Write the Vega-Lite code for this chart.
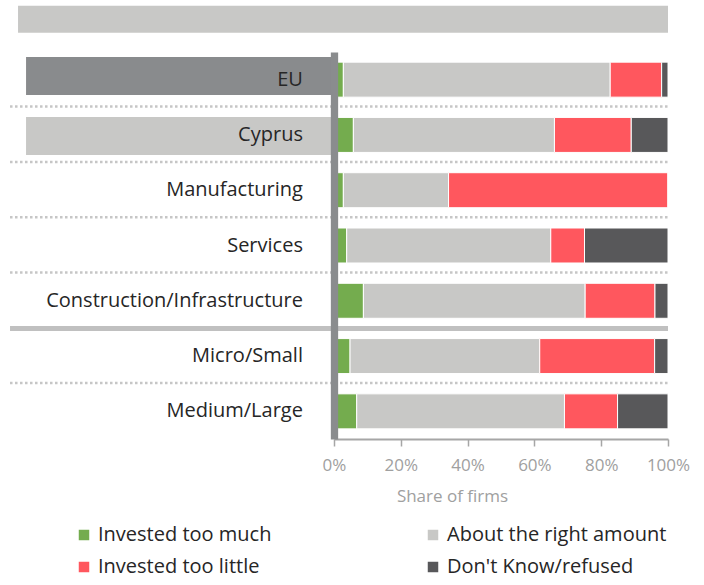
{
  "$schema": "https://vega.github.io/schema/vega-lite/v6.json",
  "autosize": {"type": "none"},
  "padding": {"left": 334, "top": 52, "right": 36, "bottom": 146},
  "width": 334,
  "height": 387,
  "background": "white",
  "config": {"font": "Open Sans", "view": {"stroke": null}},
  "datasets": {
    "shares": [
      {"group": "EU", "response": "Invested too much", "share": 2.8},
      {"group": "EU", "response": "About the right amount", "share": 79.9},
      {"group": "EU", "response": "Invested too little", "share": 15.4},
      {"group": "EU", "response": "Don't Know/refused", "share": 1.9},
      {"group": "Cyprus", "response": "Invested too much", "share": 5.8},
      {"group": "Cyprus", "response": "About the right amount", "share": 60.2},
      {"group": "Cyprus", "response": "Invested too little", "share": 23.0},
      {"group": "Cyprus", "response": "Don't Know/refused", "share": 11.0},
      {"group": "Manufacturing", "response": "Invested too much", "share": 2.8},
      {"group": "Manufacturing", "response": "About the right amount", "share": 31.5},
      {"group": "Manufacturing", "response": "Invested too little", "share": 65.7},
      {"group": "Manufacturing", "response": "Don't Know/refused", "share": 0},
      {"group": "Services", "response": "Invested too much", "share": 3.8},
      {"group": "Services", "response": "About the right amount", "share": 61.1},
      {"group": "Services", "response": "Invested too little", "share": 10.1},
      {"group": "Services", "response": "Don't Know/refused", "share": 25.0},
      {"group": "Construction/Infrastructure", "response": "Invested too much", "share": 8.8},
      {"group": "Construction/Infrastructure", "response": "About the right amount", "share": 66.4},
      {"group": "Construction/Infrastructure", "response": "Invested too little", "share": 20.9},
      {"group": "Construction/Infrastructure", "response": "Don't Know/refused", "share": 3.9},
      {"group": "Micro/Small", "response": "Invested too much", "share": 4.8},
      {"group": "Micro/Small", "response": "About the right amount", "share": 56.8},
      {"group": "Micro/Small", "response": "Invested too little", "share": 34.4},
      {"group": "Micro/Small", "response": "Don't Know/refused", "share": 4.0},
      {"group": "Medium/Large", "response": "Invested too much", "share": 6.8},
      {"group": "Medium/Large", "response": "About the right amount", "share": 62.2},
      {"group": "Medium/Large", "response": "Invested too little", "share": 15.9},
      {"group": "Medium/Large", "response": "Don't Know/refused", "share": 15.1}
    ],
    "groups": [
      {"group": "EU"},
      {"group": "Cyprus"},
      {"group": "Manufacturing"},
      {"group": "Services"},
      {"group": "Construction/Infrastructure"},
      {"group": "Micro/Small"},
      {"group": "Medium/Large"}
    ]
  },
  "layer": [
    {
      "data": {"name": "shares"},
      "transform": [
        {"calculate": "indexof(['Invested too much', 'About the right amount', 'Invested too little', \"Don't Know/refused\"], datum.response)", "as": "stackOrder"}
      ],
      "mark": {"type": "bar", "stroke": "white", "strokeWidth": 1},
      "encoding": {
        "y": {
          "field": "group", "type": "nominal",
          "scale": {
            "domain": ["EU", "Cyprus", "Manufacturing", "Services", "Construction/Infrastructure", "Micro/Small", "Medium/Large"],
            "paddingInner": 0.367, "paddingOuter": 0.1835
          },
          "axis": {
            "title": null, "labels": false, "ticks": false, "grid": false,
            "domain": true, "domainColor": "#8a8c8e", "domainWidth": 7.3, "zindex": 1
          }
        },
        "x": {
          "field": "share", "type": "quantitative", "stack": "zero",
          "scale": {"domain": [0, 100], "nice": false},
          "axis": {
            "title": "Share of firms", "values": [0, 20, 40, 60, 80, 100],
            "labelExpr": "datum.value + '%'", "grid": false, "labelFlush": false,
            "domainColor": "#a6a6a6", "domainWidth": 2,
            "tickColor": "#a6a6a6", "tickSize": 7, "tickWidth": 1.5,
            "labelFontSize": 17, "labelColor": "#a0a0a0", "labelPadding": 11,
            "titleFontSize": 17, "titleColor": "#a0a0a0", "titleFontWeight": "normal",
            "titleX": 118, "titleY": 57, "titleBaseline": "middle"
          }
        },
        "order": {"field": "stackOrder", "type": "quantitative"},
        "color": {
          "field": "response", "type": "nominal",
          "scale": {
            "domain": ["Invested too much", "About the right amount", "Invested too little", "Don't Know/refused"],
            "range": ["#74ac4e", "#c8c8c6", "#ff575e", "#58585a"]
          },
          "legend": {
            "orient": "none", "legendX": -260, "legendY": 473, "direction": "horizontal",
            "title": null, "columns": 2, "columnPadding": 151, "rowPadding": 12,
            "symbolType": "square", "symbolSize": 110, "symbolStrokeWidth": 0,
            "labelFontSize": 20, "labelColor": "#262626", "labelOffset": 4, "labelLimit": 400
          }
        }
      }
    },
    {
      "data": {"name": "groups"},
      "transform": [{"filter": "datum.group == 'EU'"}],
      "mark": {"type": "rule", "color": "#c8c8c6", "strokeWidth": 27, "strokeCap": "butt"},
      "encoding": {
        "x": {"datum": -94.6, "type": "quantitative"},
        "x2": {"datum": 100},
        "y": {"field": "group", "type": "nominal", "bandPosition": -1.226}
      }
    },
    {
      "data": {"name": "groups"},
      "transform": [{"filter": "datum.group == 'EU'"}],
      "mark": {"type": "bar", "height": 38, "yOffset": -3.6, "color": "#898b8d"},
      "encoding": {
        "x": {"datum": -92.2, "type": "quantitative"},
        "x2": {"datum": 0},
        "y": {"field": "group", "type": "nominal"}
      }
    },
    {
      "data": {"name": "groups"},
      "transform": [{"filter": "datum.group == 'Cyprus'"}],
      "mark": {"type": "bar", "height": 38, "yOffset": 1, "color": "#c8c8c6"},
      "encoding": {
        "x": {"datum": -92.2, "type": "quantitative"},
        "x2": {"datum": 0},
        "y": {"field": "group", "type": "nominal"}
      }
    },
    {
      "data": {"name": "groups"},
      "transform": [{"filter": "datum.group != 'Construction/Infrastructure' && datum.group != 'Medium/Large'"}],
      "mark": {"type": "rule", "color": "#c6c6c6", "strokeWidth": 2.5, "strokeDash": [2.5, 2.5]},
      "encoding": {
        "x": {"datum": -97, "type": "quantitative"},
        "x2": {"datum": 100},
        "y": {"field": "group", "type": "nominal", "bandPosition": 1.27}
      }
    },
    {
      "data": {"name": "groups"},
      "transform": [{"filter": "datum.group == 'Construction/Infrastructure'"}],
      "mark": {"type": "rule", "color": "#c0c0c0", "strokeWidth": 5},
      "encoding": {
        "x": {"datum": -97, "type": "quantitative"},
        "x2": {"datum": 100},
        "y": {"field": "group", "type": "nominal", "bandPosition": 1.29}
      }
    },
    {
      "data": {"name": "groups"},
      "mark": {"type": "text", "align": "right", "baseline": "middle", "fontSize": 20, "color": "#262626"},
      "encoding": {
        "x": {"datum": -9.3, "type": "quantitative"},
        "y": {"field": "group", "type": "nominal"},
        "text": {"field": "group"}
      }
    }
  ]
}
